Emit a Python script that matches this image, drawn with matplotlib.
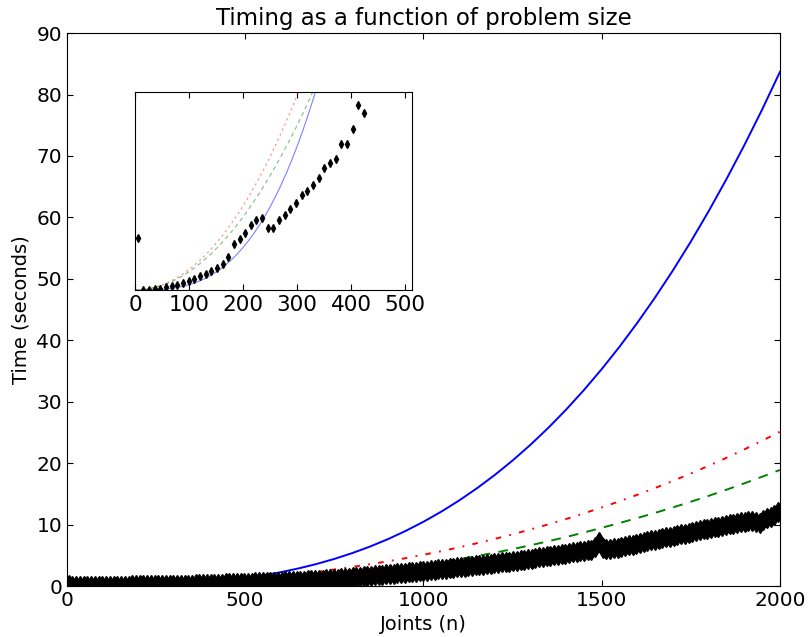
import numpy as np
import matplotlib
matplotlib.use('Agg')
import matplotlib.pyplot as plt

# Model curves: every 10 joints up to 400, then every 50
n_model = list(range(0, 400, 10)) + list(range(400, 2001, 50))
cubic_time = [0.0, 0.00001, 0.00008, 0.00028, 0.00067, 0.00131, 0.00226, 0.00359, 0.00536, 0.00763,
              0.01046, 0.01393, 0.01808, 0.02299, 0.02871, 0.03531, 0.04285, 0.0514, 0.06102, 0.07176,
              0.0837, 0.09689, 0.11141, 0.1273, 0.14463, 0.16348, 0.18389, 0.20594, 0.22967, 0.25517,
              0.28249, 0.31169, 0.34284, 0.376, 0.41122, 0.44858, 0.48813, 0.52995, 0.5741, 0.62063,
              0.6696, 0.9534, 1.3078, 1.7407, 2.2599, 2.8733, 3.5886, 4.4139, 5.3568, 6.4253,
              7.6272, 8.9703, 10.4625, 12.1116, 13.9256, 15.9122, 18.0792, 20.4346, 22.9861, 25.7416,
              28.7091, 31.8962, 35.3109, 38.961, 42.8544, 46.9989, 51.4023, 56.0725, 61.0164, 66.2416,
              71.7568, 77.5606, 83.7]
dashdot_time = [0.0, 0.00039, 0.00157, 0.00354, 0.00632, 0.0099, 0.0143, 0.01952, 0.02557, 0.03246,
                0.04019, 0.04877, 0.05822, 0.06852, 0.07971, 0.09177, 0.10472, 0.11856, 0.1333, 0.14895,
                0.16552, 0.183, 0.20143, 0.22079, 0.24109, 0.26234, 0.28455, 0.30773, 0.33189, 0.35702,
                0.38313, 0.41024, 0.43836, 0.46748, 0.49762, 0.52877, 0.56096, 0.59419, 0.62846, 0.66378,
                0.7002, 0.8982, 1.1238, 1.3777, 1.661, 1.9746, 2.3192, 2.6958, 3.1053, 3.5486,
                4.0265, 4.54, 5.09, 5.6773, 6.3029, 6.9676, 7.6723, 8.418, 9.2054, 10.0356,
                10.9094, 11.8277, 12.7913, 13.8011, 14.8582, 15.9632, 17.1175, 18.3214, 19.5761, 20.8823,
                22.2412, 23.6535, 25.12]
dashed_time = [0.0, 0.00036, 0.00144, 0.00324, 0.00576, 0.009, 0.01296, 0.01764, 0.02304, 0.02916,
               0.036, 0.04356, 0.05184, 0.06084, 0.07056, 0.081, 0.09216, 0.10404, 0.11664, 0.12996,
               0.144, 0.15876, 0.17424, 0.19044, 0.20736, 0.225, 0.24336, 0.26244, 0.28224, 0.30276,
               0.324, 0.34596, 0.36864, 0.39204, 0.41616, 0.441, 0.46656, 0.49284, 0.51984, 0.54756,
               0.576, 0.72, 0.88, 1.05, 1.24, 1.45, 1.68, 1.93, 2.2, 2.48,
               2.78, 3.1, 3.44, 3.89, 4.37, 4.88, 5.43, 6.01, 6.63, 7.29,
               7.98, 8.71, 9.48, 10.26, 11.07, 11.92, 12.8, 13.72, 14.68, 15.68,
               16.72, 17.79, 18.9]

# Measured timings
n_measured = np.linspace(5, 1995, 191)
measured_time = [
    0.102, 0.001, 0.001, 0.002, 0.003, 0.005, 0.007, 0.010, 0.014, 0.017,
    0.022, 0.027, 0.032, 0.037, 0.044, 0.052, 0.066, 0.090, 0.100, 0.113,
    0.128, 0.138, 0.142, 0.123, 0.123, 0.137, 0.147, 0.159, 0.171, 0.187,
    0.196, 0.207, 0.221, 0.241, 0.251, 0.258, 0.288, 0.288, 0.317, 0.364,
    0.349, 0.41, 0.43, 0.45, 0.47, 0.49, 0.51, 0.53, 0.55, 0.57,
    0.59, 0.61, 0.63, 0.65, 0.67, 0.69, 0.71, 0.73, 0.75, 0.77,
    0.795, 0.82, 0.86, 0.89, 0.92, 0.96, 0.99, 1.03, 1.06, 1.10,
    1.14, 1.18, 1.22, 1.27, 1.31, 1.36, 1.40, 1.45, 1.50, 1.56,
    1.61, 1.67, 1.72, 1.77, 1.83, 1.88, 1.93, 1.99, 2.05, 2.11,
    2.17, 2.23, 2.29, 2.34, 2.40, 2.45, 2.51, 2.58, 2.64, 2.70,
    2.76, 2.82, 2.89, 2.95, 3.02, 3.08, 3.15, 3.21, 3.28, 3.35,
    3.42, 3.49, 3.56, 3.63, 3.70, 3.77, 3.84, 3.92, 3.99, 4.07,
    4.14, 4.23, 4.31, 4.40, 4.48, 4.57, 4.65, 4.74, 4.83, 4.92,
    5.01, 5.10, 5.19, 5.28, 5.37, 5.47, 5.56, 5.66, 5.76, 5.84,
    5.93, 6.30, 7.20, 6.20, 5.95, 6.02, 6.12, 6.24, 6.37, 6.50,
    6.63, 6.76, 6.90, 7.03, 7.16, 7.30, 7.43, 7.56, 7.68, 7.81,
    7.93, 8.06, 8.18, 8.30, 8.42, 8.54, 8.66, 8.79, 8.92, 9.06,
    9.21, 9.36, 9.48, 9.58, 9.68, 9.80, 9.93, 10.05, 10.15, 10.27,
    10.40, 10.50, 10.58, 10.62, 10.45, 10.20, 10.70, 11.05, 11.30, 11.60,
    12.00]

plt.rcParams['font.size'] = 14.5
plt.rcParams['xtick.direction'] = 'in'
plt.rcParams['ytick.direction'] = 'in'
plt.rcParams['xtick.top'] = True
plt.rcParams['ytick.right'] = True
plt.rcParams['xtick.major.size'] = 4.5
plt.rcParams['ytick.major.size'] = 4.5
plt.rcParams['lines.scale_dashes'] = False

fig = plt.figure(figsize=(8.08, 6.37), dpi=100)
ax = fig.add_axes([0.0829, 0.080, 0.8824, 0.868])

ax.plot(n_model, cubic_time, 'b-', lw=1.4)
ax.plot(n_model, dashdot_time, 'r', lw=1.4, dashes=(4, 6, 1.3, 6))
ax.plot(n_model, dashed_time, 'g', lw=1.4, dashes=(7, 6))
ax.plot(n_measured, measured_time, 'kd-', ms=10, lw=1)

ax.set_xlim(0, 2000)
ax.set_ylim(0, 90)
ax.set_xticks([0, 500, 1000, 1500, 2000])
ax.set_yticks(range(0, 91, 10))
ax.set_title('Timing as a function of problem size', fontsize=16.5)
ax.set_xlabel('Joints (n)', fontsize=14)
ax.set_ylabel('Time (seconds)', fontsize=14)

# zoomed view of the small problems
inset = fig.add_axes([0.1671, 0.5447, 0.3428, 0.3108])
inset.plot(n_model, cubic_time, 'b-', lw=0.8, alpha=0.5)
inset.plot(n_model, dashdot_time, 'r', lw=0.8, alpha=0.5, dashes=(1.5, 2.5))
inset.plot(n_model, dashed_time, 'g', lw=0.8, alpha=0.5, dashes=(3, 2.5))
inset.plot(n_measured, measured_time, 'kd', ms=4)
inset.set_xlim(0, 513)
inset.set_ylim(0, 0.39)
inset.set_xticks([0, 100, 200, 300, 400, 500])
inset.set_yticks([])
inset.tick_params(labelsize=15.5)

fig.savefig('out.png', dpi=100)
